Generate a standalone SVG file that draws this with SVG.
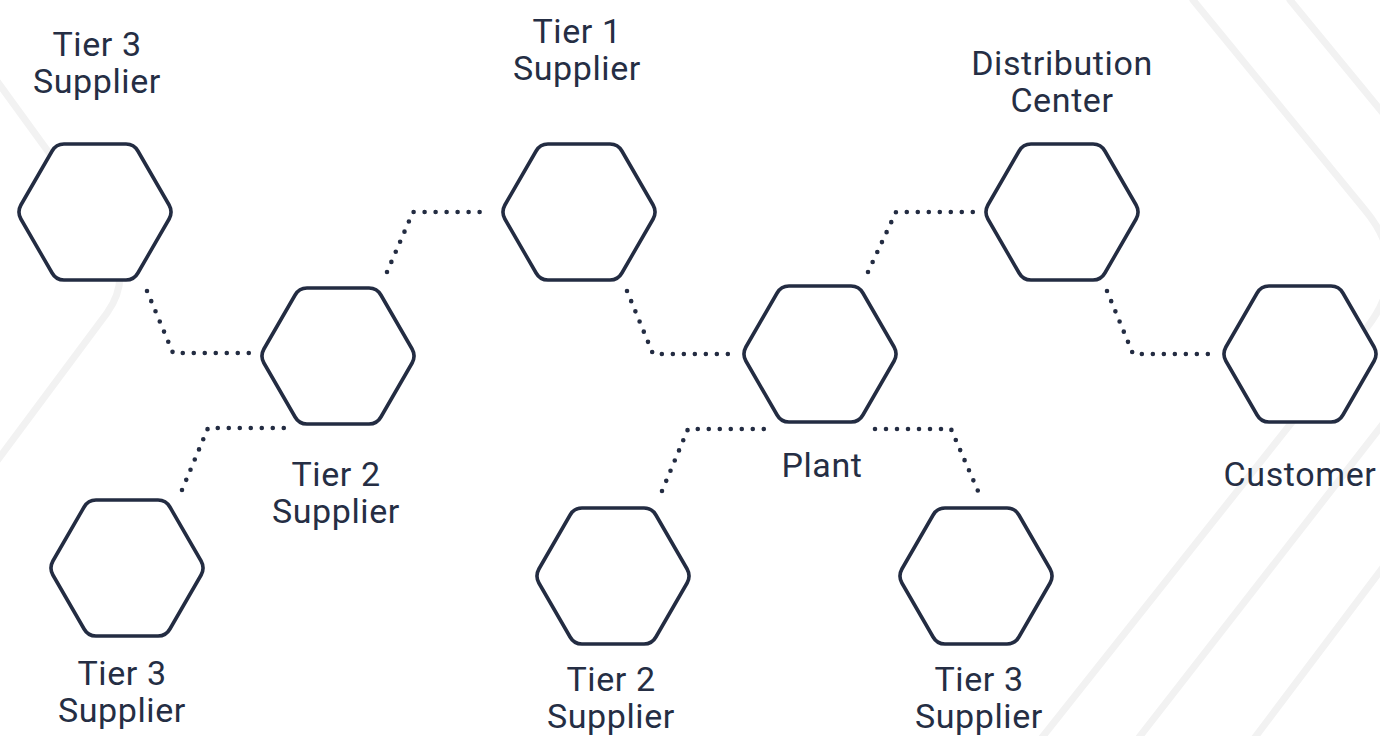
<svg xmlns="http://www.w3.org/2000/svg" xmlns:xlink="http://www.w3.org/1999/xlink" width="1380" height="736" viewBox="0 0 1380 736">
  <style>
    .bg { fill: none; stroke: #f2f2f2; stroke-width: 7; stroke-linecap: round; }
    .hex { fill: #ffffff; stroke: #232c42; stroke-width: 3.6; }
    .dots { fill: none; stroke: #232c42; stroke-width: 4.6; stroke-linecap: round; stroke-linejoin: round; stroke-dasharray: 0 11; }
    .lbl { font-family: Roboto, "Liberation Sans", sans-serif; font-size: 34px; letter-spacing: 0.6px; fill: #252e44; text-anchor: middle; }
  </style>
  <defs>
    <path id="hexShape" d="M-31,-68 L31,-68 Q39,-68 42.9,-61 L74.1,-7 Q78,0 74.1,7 L42.9,61 Q39,68 31,68 L-31,68 Q-39,68 -42.9,61 L-74.1,7 Q-78,0 -74.1,-7 L-42.9,-61 Q-39,-68 -31,-68 Z"/>
  </defs>
  <rect width="1380" height="736" fill="#ffffff"/>
  <g id="background">
    <path class="bg" d="M-6,77 L100,223 Q136,273 107,313 L-6,465"/>
    <path class="bg" d="M1193,0 L1365,210 Q1414,269 1365,330 L1040,740"/>
    <path class="bg" d="M1290,0 L1460,207 Q1507,265 1460,325 L1137,740"/>
    <path class="bg" d="M1253,740 L1430,505"/>
  </g>
  <g id="connectors">
    <path class="dots" d="M147,291 L173,353 L249,353"/>
    <path class="dots" d="M387,272 L413,212 L489,212"/>
    <path class="dots" d="M627,291 L653,354 L729,354"/>
    <path class="dots" d="M868,272 L896,212 L973,212"/>
    <path class="dots" d="M1107,291 L1133,354 L1210,354"/>
    <path class="dots" d="M182,490 L208,428 L285,428"/>
    <path class="dots" d="M662,491 L688,429 L765,429"/>
    <path class="dots" d="M875,429 L951,429 L978,491"/>
  </g>
  <g id="tier3-supplier-a">
    <use xlink:href="#hexShape" class="hex" x="95" y="212"/>
    <text class="lbl"><tspan x="97" y="56">Tier 3</tspan><tspan x="97" y="93">Supplier</tspan></text>
  </g>
  <g id="tier2-supplier-a">
    <use xlink:href="#hexShape" class="hex" x="338" y="356"/>
    <text class="lbl"><tspan x="336" y="486">Tier 2</tspan><tspan x="336" y="523">Supplier</tspan></text>
  </g>
  <g id="tier1-supplier">
    <use xlink:href="#hexShape" class="hex" x="579" y="212"/>
    <text class="lbl"><tspan x="577" y="43">Tier 1</tspan><tspan x="577" y="80">Supplier</tspan></text>
  </g>
  <g id="distribution-center">
    <use xlink:href="#hexShape" class="hex" x="1062" y="212"/>
    <text class="lbl"><tspan x="1062" y="75">Distribution</tspan><tspan x="1062" y="112">Center</tspan></text>
  </g>
  <g id="customer">
    <use xlink:href="#hexShape" class="hex" x="1300" y="354"/>
    <text class="lbl" x="1300" y="486">Customer</text>
  </g>
  <g id="plant">
    <use xlink:href="#hexShape" class="hex" x="820" y="354"/>
    <text class="lbl" x="822" y="477">Plant</text>
  </g>
  <g id="tier3-supplier-b">
    <use xlink:href="#hexShape" class="hex" x="127" y="568"/>
    <text class="lbl"><tspan x="122" y="685">Tier 3</tspan><tspan x="122" y="722">Supplier</tspan></text>
  </g>
  <g id="tier2-supplier-b">
    <use xlink:href="#hexShape" class="hex" x="613" y="576"/>
    <text class="lbl"><tspan x="611" y="691">Tier 2</tspan><tspan x="611" y="728">Supplier</tspan></text>
  </g>
  <g id="tier3-supplier-c">
    <use xlink:href="#hexShape" class="hex" x="976" y="576"/>
    <text class="lbl"><tspan x="979" y="691">Tier 3</tspan><tspan x="979" y="728">Supplier</tspan></text>
  </g>
</svg>
